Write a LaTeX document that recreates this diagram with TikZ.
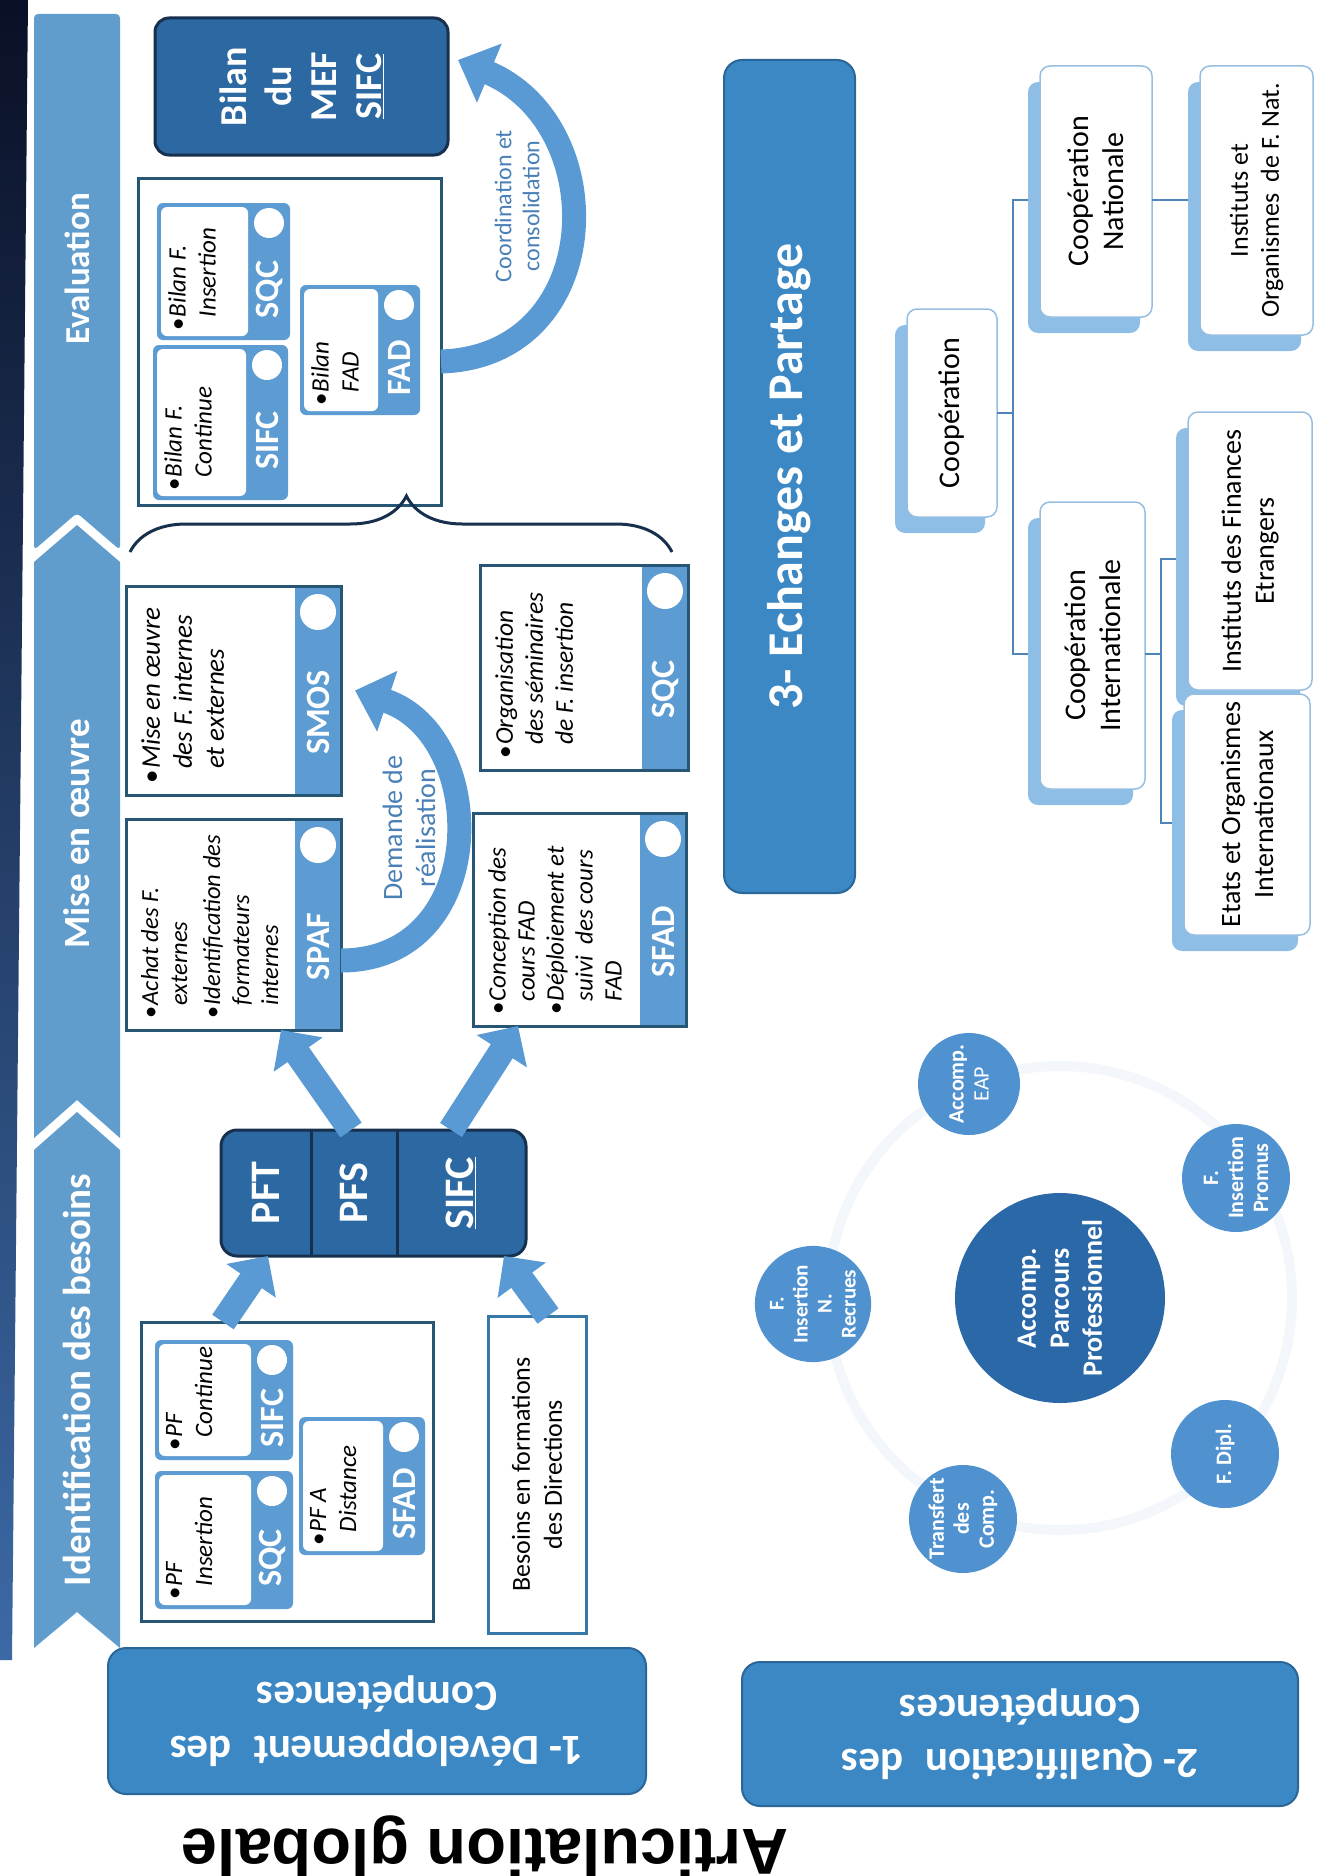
\documentclass[tikz,border=0pt]{standalone}
\usepackage{fontspec}
\setmainfont{Carlito}
\newfontfamily\titlefont{Liberation Sans}
\usetikzlibrary{arrows.meta,positioning,calc,shadows}
\usetikzlibrary{decorations.pathreplacing}
\definecolor{navy}{RGB}{10,16,38}
\definecolor{stripblue}{RGB}{60,105,165}
\definecolor{bandblue}{RGB}{96,156,204}
\definecolor{darkbox}{RGB}{44,104,162}
\definecolor{darkedge}{RGB}{22,48,78}
\definecolor{midblue}{RGB}{60,136,196}
\definecolor{midedge}{RGB}{42,102,152}
\definecolor{tabblue}{RGB}{92,156,210}
\definecolor{framecol}{RGB}{38,86,116}
\definecolor{besedge}{RGB}{56,120,168}
\definecolor{shadowblue}{RGB}{142,190,230}
\definecolor{treeedge}{RGB}{150,190,225}
\definecolor{treeline}{RGB}{78,132,182}
\definecolor{arrowblue}{RGB}{90,154,212}
\definecolor{circblue}{RGB}{80,146,208}
\definecolor{circdark}{RGB}{42,104,168}
\definecolor{lblblue}{RGB}{74,128,182}
\definecolor{ringgrey}{RGB}{243,246,250}
\newcommand{\itm}{\makebox[0.55em][l]{\upshape\textbullet}}
\newcommand{\ind}{\hspace*{0.55em}}
% puzzle piece: name, x1, y1, x2, y2 (image px), tab label, text
\newcommand{\puzzlepc}[7]{%
  \fill[tabblue,rounded corners=6pt] (#2,#3) rectangle (#4,#5);
  \fill[white,rounded corners=6pt] ({#2+4},{#3+4}) rectangle ({#4-42},{#5-4});
  \fill[white] ({#4-21},{#3+20}) circle (15);
  \node[tablbl,rotate=90] (#1-tab) at ({#4-21},{(#3+#5)/2+18}) {#6};
  \node[itemtxt,rotate=90,anchor=north west] (#1) at ({#2+11},{#5-9}) {#7};}
% framed task box: name, cx, cy, w, h, tab label, text, font size, skip
\newcommand{\taskbox}[9]{%
  \node[frm,minimum width=#4pt,minimum height=#5pt] (#1) at (#2,#3) {};
  \fill[tabblue] ([xshift=-46pt,yshift=-1.5pt]#1.north east)
        rectangle ([xshift=-1.5pt,yshift=1.5pt]#1.south east);
  \fill[white] ([xshift=-23pt,yshift=-26pt]#1.north east) circle (18);
  \node[tablbl,rotate=90] (#1-tab) at ([xshift=-23pt,yshift=-22pt]#1.east) {#6};
  \node[itemtxt,font=\fontsize{#8}{#9}\selectfont\itshape,rotate=90,anchor=north west] (#1-txt)
        at ([xshift=15pt,yshift=11pt]#1.south west) {#7};}

\begin{document}
\begin{tikzpicture}[x=1pt,y=-1pt,
  bandlbl/.style={text=white,inner sep=0pt},
  darkblk/.style={draw=darkedge,line width=3pt,fill=darkbox,rounded corners=14pt,
                  outer sep=0pt,inner sep=0pt},
  darklbl/.style={font=\fontsize{38}{45}\selectfont\bfseries,text=white,align=center,inner sep=0pt},
  celllbl/.style={font=\fontsize{42}{46}\selectfont\bfseries,text=white,inner sep=0pt},
  frm/.style={draw=framecol,line width=3pt,fill=white,outer sep=0pt,inner sep=0pt},
  itemtxt/.style={font=\fontsize{25}{30}\selectfont\itshape,align=left,inner sep=0pt},
  tablbl/.style={font=\fontsize{34}{36}\selectfont\bfseries,text=white,inner sep=0pt},
  curvlbl/.style={text=lblblue,align=center,inner sep=0pt},
  plainlbl/.style={font=\fontsize{26}{32}\selectfont,align=center,inner sep=0pt},
  midblk/.style={draw=midedge,line width=2pt,fill=midblue,rounded corners=18pt,text=white,
                 align=center,inner sep=0pt},
  treebox/.style={draw=treeedge,line width=1.5pt,fill=white,rounded corners=10pt,outer sep=0pt,
                  drop shadow={shadow xshift=-12pt,shadow yshift=-16pt,fill=shadowblue,opacity=1}},
  treelbl/.style={font=\fontsize{30}{35}\selectfont,align=center,inner sep=0pt},
  leaflbl/.style={font=\fontsize{28}{33}\selectfont,align=center,inner sep=0pt},
  treeln/.style={draw=treeline,line width=2pt},
  smallcirc/.style={circle,fill=circblue,text=white,inner sep=0pt,align=center,
                    font=\fontsize{22}{25}\selectfont\bfseries},
  bigcirc/.style={circle,fill=circdark,text=white,inner sep=0pt,align=center,
                  minimum size=210pt,font=\fontsize{28}{33}\selectfont\bfseries},
  blockarr/.style={draw=arrowblue,line width=26pt,-{Triangle[length=30pt,width=58pt]}},
  curvarr/.style={draw=arrowblue,line width=24pt,-{Triangle[length=34pt,width=62pt]}},
  grpbrace/.style={draw=darkedge,line width=3pt,decorate,
                   decoration={brace,amplitude=56pt,aspect=0.51}},
  titlelbl/.style={font=\titlefont\bfseries\fontsize{65}{70}\selectfont,inner sep=0pt}]
\useasboundingbox (0,0) rectangle (1318,1876);

% header band
\shade[top color=navy,bottom color=stripblue] (0,0) -- (28,0) -- (12,1660) -- (0,1660) -- cycle;
\fill[bandblue,rounded corners=4pt] (34,550) -- (34,14) -- (120,14) -- (120,550) -- (77,513) -- cycle;
\fill[bandblue] (34,1138) -- (34,562) -- (77,525) -- (120,562) -- (120,1138) -- (77,1100) -- cycle;
\fill[bandblue] (34,1648) -- (34,1150) -- (77,1112) -- (120,1150) -- (120,1648) -- (77,1612) -- cycle;
\node[bandlbl,font=\fontsize{35}{40}\selectfont\bfseries,rotate=90] (eval) at (77,269) {Evaluation};
\node[bandlbl,font=\fontsize{37}{42}\selectfont\bfseries,rotate=90] (mise) at (77,834) {Mise en œuvre};
\node[bandlbl,font=\fontsize{39}{44}\selectfont\bfseries,rotate=90] (ident) at (77,1380) {Identification des besoins};

% evaluation
\node[darkblk,minimum width=293pt,minimum height=137pt] (bilan) at (301.5,86.5) {};
\node[darklbl,rotate=90] (bilantxt) at (bilan) {Bilan\\du\\MEF\\\underline{SIFC}};
\node[frm,minimum width=303pt,minimum height=327pt] (evalbox) at (289.5,341.5) {};
\puzzlepc{bcont}{153}{345}{288}{500}{SIFC}{\itm Bilan F.\\\ind Continue}
\puzzlepc{bins}{157}{203}{290}{340}{SQC}{\itm Bilan F.\\\ind Insertion}
\puzzlepc{bfad}{300}{285}{420}{415}{FAD}{\itm Bilan\\\ind FAD}
\draw[curvarr] ([yshift=-20pt]evalbox.east) .. controls +(165,-5) and +(155,65)
      .. ([xshift=10pt,yshift=95pt]bilan.south east);
\node[curvlbl,font=\fontsize{24}{28}\selectfont,rotate=90] (coordlbl) at (517,206) {Coordination et\\consolidation};

% mise en oeuvre
\coordinate (brL) at (130,552);
\coordinate (brR) at (672,552);
\draw[grpbrace] (brL) -- (brR);
\taskbox{smos}{233.5}{690.5}{215}{209}{SMOS}{\itm Mise en œuvre\\\ind des F. internes\\\ind et externes}{27}{32}
\taskbox{spaf}{233.5}{924.5}{215}{211}{SPAF}{\itm Achat des F.\\\ind externes\\[4pt]\itm Identification des\\\ind formateurs\\\ind internes}{24.5}{29}
\taskbox{sqcorg}{584}{667.5}{208}{205}{SQC}{\itm Organisation\\\ind des séminaires\\\ind de F. insertion}{25.5}{30}
\taskbox{sfad}{579.5}{919.5}{213}{213}{SFAD}{\itm Conception des\\\ind cours FAD\\\itm Déploiement et\\\ind suivi\ \ des cours\\\ind FAD}{25}{29}
\draw[curvarr] ([yshift=-36pt]spaf.east) .. controls +(150,0) and +(135,45) .. ([xshift=14pt]smos.east);
\node[curvlbl,font=\fontsize{28}{33}\selectfont,rotate=90] (demlbl) at (409,828) {Demande de\\réalisation};

% identification des besoins
\node[darkblk,rounded corners=16pt,minimum width=305pt,minimum height=126pt] (pft) at (373.5,1193) {};
\draw[darkedge,line width=3pt] ([xshift=90pt]pft.north west) -- ([xshift=90pt]pft.south west);
\draw[darkedge,line width=3pt] ([xshift=176pt]pft.north west) -- ([xshift=176pt]pft.south west);
\node[celllbl,rotate=90] (pftl) at (266,1193) {PFT};
\node[celllbl,rotate=90] (pfsl) at (354,1193) {PFS};
\node[celllbl,rotate=90] (sifcl) at (461,1193) {\underline{SIFC}};
\node[frm,minimum width=292pt,minimum height=299pt] (pf) at (287,1471.5) {};
\puzzlepc{pfins}{155}{1471}{293}{1609}{SQC}{\itm PF\\\ind Insertion}
\puzzlepc{pfcont}{155}{1340}{293}{1460}{SIFC}{\itm PF\\\ind Continue}
\puzzlepc{pfdist}{299}{1417}{425}{1555}{SFAD}{\itm PF A\\\ind Distance}
\node[frm,draw=besedge,minimum width=98pt,minimum height=317pt] (besoins) at (537,1474.5) {};
\node[plainlbl,rotate=90] (besoinstxt) at (besoins) {Besoins en formations\\des Directions};
\draw[blockarr] ([xshift=82pt]pf.north west) -- ([xshift=47pt]pft.south west);
\draw[blockarr] ([xshift=-38pt]besoins.north east) -- ([xshift=-22pt]pft.south east);
\draw[blockarr] ([xshift=130pt]pft.north west) -- ([xshift=155pt]spaf.south west);
\draw[blockarr] ([xshift=230pt]pft.north west) -- ([xshift=45pt]sfad.south west);

% echanges et partage
\node[midblk,font=\fontsize{50}{56}\selectfont\bfseries,rotate=90,minimum width=833pt,
      minimum height=131pt] (echg) at (789.5,476.5) {3- Echanges et Partage};
\node[treebox,minimum width=90pt,minimum height=208pt] (coop) at (952,413) {};
\node[treebox,minimum width=112pt,minimum height=251pt] (coopnat) at (1096,191.5) {};
\node[treebox,minimum width=113pt,minimum height=269pt] (instnat) at (1256.5,200.5) {};
\node[treebox,minimum width=105pt,minimum height=287pt] (coopint) at (1092.5,645.5) {};
\node[treebox,minimum width=124pt,minimum height=278pt] (instfin) at (1250,551) {};
\node[treebox,minimum width=126pt,minimum height=241pt] (etats) at (1247,814.5) {};
\node[treelbl,rotate=90] (cooptxt) at (coop) {Coopération};
\node[treelbl,rotate=90] (coopnattxt) at (coopnat) {Coopération\\Nationale};
\node[leaflbl,font=\fontsize{26}{31}\selectfont,rotate=90] (instnattxt) at (instnat) {Instituts et\\Organismes\ \ de F. Nat.};
\node[treelbl,rotate=90] (coopinttxt) at (coopint) {Coopération\\Internationale};
\node[leaflbl,rotate=90] (instfintxt) at (instfin) {Instituts des Finances\\Etrangers};
\node[leaflbl,rotate=90] (etatstxt) at (etats) {Etats et Organismes\\Internationaux};
\draw[treeln] (coop.east) -- ++(16,0) coordinate (trunk);
\draw[treeln] ($(coopnat.west)+(-12,8)$) -| (trunk) |- ($(coopint.west)+(-12,8)$);
\draw[treeln] ($(coopnat.east)+(0,8)$) -- ($(coopnat.east -| instnat.west)+(-12,8)$);
\draw[treeln] ($(coopint.east)+(0,8)$) -- ++(16,0) coordinate (fork);
\draw[treeln] ($(instfin.west)+(-12,8)$) -| (fork) |- ($(etats.west)+(-12,8)$);

% accompagnement
\coordinate (hub) at (1060,1298);
\draw[ringgrey,line width=10pt] (hub) circle (232);
\node[bigcirc,rotate=90] (parcours) at (hub) {Accomp.\\Parcours\\Professionnel};
\node[smallcirc,rotate=90,minimum size=102pt] (eap) at (969,1084) {Accomp.\\\mdseries EAP};
\node[smallcirc,rotate=90,minimum size=108pt] (promus) at (1236,1178) {F.\\Insertion\\Promus};
\node[smallcirc,rotate=90,minimum size=108pt] (dipl) at (1225,1454) {F. Dipl.};
\node[smallcirc,rotate=90,minimum size=108pt] (transf) at (963,1519) {Transfert\\des\\Comp.};
\node[smallcirc,rotate=90,minimum size=110pt,font=\fontsize{21}{24}\selectfont\bfseries] (recrues) at (813,1304) {F.\\Insertion\\N.\\Recrues};

% axes
\node[midblk,font=\fontsize{43}{54}\selectfont\bfseries,rotate=180,minimum width=538pt,
      minimum height=146pt] (dev) at (377,1721) {1- Développement\enspace des\\Compétences};
\node[midblk,font=\fontsize{43}{54}\selectfont\bfseries,rotate=180,minimum width=556pt,
      minimum height=144pt] (qual) at (1020,1734) {2- Qualification\enspace des\\Compétences};
\node[titlelbl,rotate=180,anchor=base] (titre) at (485,1829) {Articulation globale};
\end{tikzpicture}
\end{document}
